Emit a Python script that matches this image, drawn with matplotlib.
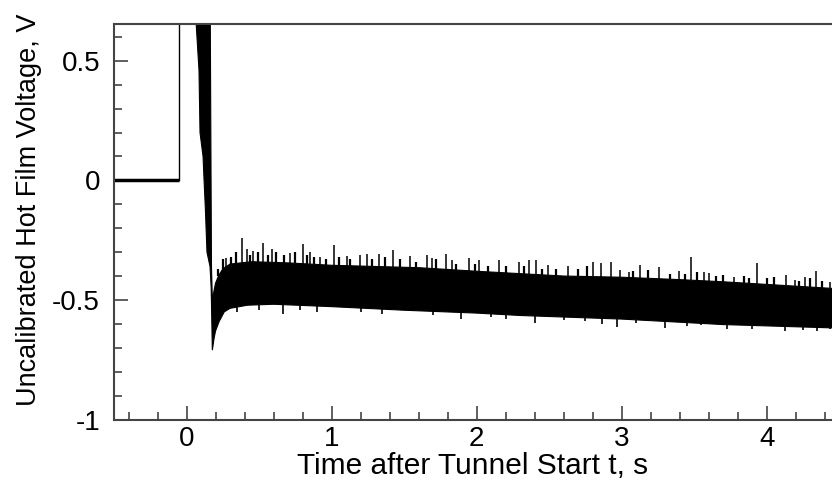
import numpy as np
import matplotlib
matplotlib.use('Agg')
import matplotlib.pyplot as plt
from matplotlib.ticker import MultipleLocator

# pre-start baseline and trigger step
base_t = [-0.5, -0.052]
base_v = [0.003, 0.003]
step_t = [-0.052, -0.052]
step_v = [0.003, 0.9]

# envelope of the noisy hot film signal
upper_t = [0.066, 0.162, 0.172, 0.178, 0.19, 0.2, 0.22, 0.25, 0.3, 0.45, 0.7, 1.0,
           1.3, 1.6, 2.0, 2.3, 2.6, 3.0, 3.4, 3.7, 4.0, 4.46]
upper_v = [0.9, 0.9, -0.36, -0.5, -0.46, -0.43, -0.40, -0.37, -0.35, -0.34, -0.345, -0.355,
           -0.36, -0.365, -0.38, -0.39, -0.40, -0.405, -0.415, -0.424, -0.435, -0.452]
lower_t = [0.066, 0.086, 0.093, 0.114, 0.121, 0.13, 0.141, 0.162, 0.17, 0.178, 0.19, 0.2,
           0.225, 0.26, 0.3, 0.42, 0.6, 1.0, 1.5, 2.0, 2.3, 3.0, 3.7, 4.46]
lower_v = [0.66, 0.46, 0.2, 0.1, 0.0, -0.12, -0.3, -0.36, -0.45, -0.71, -0.66, -0.63,
           -0.59, -0.55, -0.535, -0.522, -0.518, -0.528, -0.543, -0.555, -0.565, -0.58, -0.603, -0.617]

# noise spikes above the band
spike_t = [0.272, 0.381, 0.415, 0.461, 0.530, 0.587, 0.714, 0.806, 0.852, 0.921, 1.017, 1.105,
           1.197, 1.243, 1.330, 1.422, 1.541, 1.661, 1.691, 1.790, 1.829, 1.950, 2.019, 2.157,
           2.293, 2.360, 2.410, 2.495, 2.633, 2.801, 2.859, 2.926, 2.990, 3.049, 3.123, 3.256,
           3.394, 3.479, 3.567, 3.601, 3.774, 3.934, 4.130, 4.194, 4.263, 4.341, 4.433]
spike_v = [-0.326, -0.243, -0.285, -0.295, -0.261, -0.289, -0.305, -0.264, -0.299, -0.320, -0.271, -0.317,
           -0.313, -0.308, -0.308, -0.292, -0.317, -0.313, -0.326, -0.308, -0.331, -0.326, -0.333, -0.331,
           -0.343, -0.331, -0.333, -0.354, -0.359, -0.343, -0.347, -0.340, -0.375, -0.382, -0.352, -0.361,
           -0.378, -0.322, -0.382, -0.387, -0.403, -0.347, -0.396, -0.417, -0.403, -0.378, -0.424]
# shorter fuzz along the top edge
fuzz_t = [0.22, 0.25, 0.31, 0.34, 0.44, 0.49, 0.56, 0.62, 0.67, 0.75, 0.83, 0.88, 0.96, 1.05,
          1.13, 1.28, 1.37, 1.47, 1.58, 1.72, 1.86, 1.99, 2.08, 2.2, 2.33, 2.45, 2.55, 2.7,
          2.76, 3.08, 3.18, 3.33, 3.44, 3.52, 3.65, 3.7, 3.84, 3.88, 4.0, 4.05, 4.22, 4.3, 4.38]
fuzz_v = [-0.37, -0.33, -0.32, -0.30, -0.31, -0.30, -0.31, -0.30, -0.31, -0.30, -0.31, -0.32, -0.33, -0.32,
          -0.33, -0.33, -0.32, -0.33, -0.34, -0.33, -0.35, -0.35, -0.36, -0.36, -0.36, -0.37, -0.37, -0.37,
          -0.36, -0.38, -0.375, -0.39, -0.39, -0.385, -0.40, -0.395, -0.40, -0.41, -0.41, -0.405, -0.42, -0.41, -0.42]
# dips below the band
dip_t = [0.35, 0.5, 0.668, 0.783, 0.9, 1.2, 1.35, 1.7, 1.891, 2.1, 2.2, 2.403, 2.6, 2.75,
         2.863, 2.967, 3.1, 3.302, 3.45, 3.55, 3.728, 3.9, 4.123, 4.25, 4.35, 4.433]
dip_v = [-0.55, -0.54, -0.557, -0.543, -0.55, -0.55, -0.56, -0.565, -0.578, -0.57, -0.58, -0.596, -0.585, -0.59,
         -0.601, -0.612, -0.595, -0.619, -0.61, -0.605, -0.623, -0.62, -0.631, -0.625, -0.63, -0.623]

plt.rcParams['font.family'] = ['Liberation Sans', 'DejaVu Sans']

fig = plt.figure(figsize=(8.32, 4.86), dpi=100)
ax = fig.add_axes([114 / 832, 1 - 419.5 / 486, 1 - 114 / 832, (419.5 - 24.5) / 486])

ax.plot(base_t, base_v, color='black', lw=2.5, solid_capstyle='butt')
ax.plot(step_t, step_v, color='black', lw=1.0)

poly_t = np.concatenate([upper_t, lower_t[::-1]])
poly_v = np.concatenate([upper_v, lower_v[::-1]])
ax.fill(poly_t, poly_v, color='black', lw=0.8, ec='black')

ax.vlines(spike_t, np.interp(spike_t, upper_t, upper_v), spike_v, color='black', lw=1.1)
ax.vlines(fuzz_t, np.interp(fuzz_t, upper_t, upper_v), fuzz_v, color='black', lw=1.6)
ax.vlines(dip_t, np.interp(dip_t, lower_t, lower_v), dip_v, color='black', lw=1.2)

ax.set_xlim(-0.5, 4.45)
ax.set_ylim(-1, 0.652)
ax.xaxis.set_minor_locator(MultipleLocator(0.2))
ax.yaxis.set_minor_locator(MultipleLocator(0.1))
ax.set_yticks([-1, -0.5, 0, 0.5])
ax.set_yticklabels(['-1', '-0.5', '0', '0.5'])
ax.set_xticks([0, 1, 2, 3, 4])

ax.tick_params(which='both', direction='in', labelsize=20, color='#444444')
ax.tick_params(which='major', length=10, width=1.2)
ax.tick_params(which='minor', length=6, width=1.2)
ax.tick_params(axis='x', pad=5)
ax.tick_params(axis='y', pad=10)

for s in ['left', 'bottom', 'top']:
    ax.spines[s].set_linewidth(1.5)
    ax.spines[s].set_color('#444444')
ax.spines['right'].set_visible(False)

ax.set_xlabel('Time after Tunnel Start t, s', fontsize=21.5, labelpad=0)
ax.set_ylabel('Uncalibrated Hot Film Voltage, V', fontsize=19.5)
ax.yaxis.set_label_coords(-0.1, 0.53)

fig.savefig('out.png', dpi=100)
